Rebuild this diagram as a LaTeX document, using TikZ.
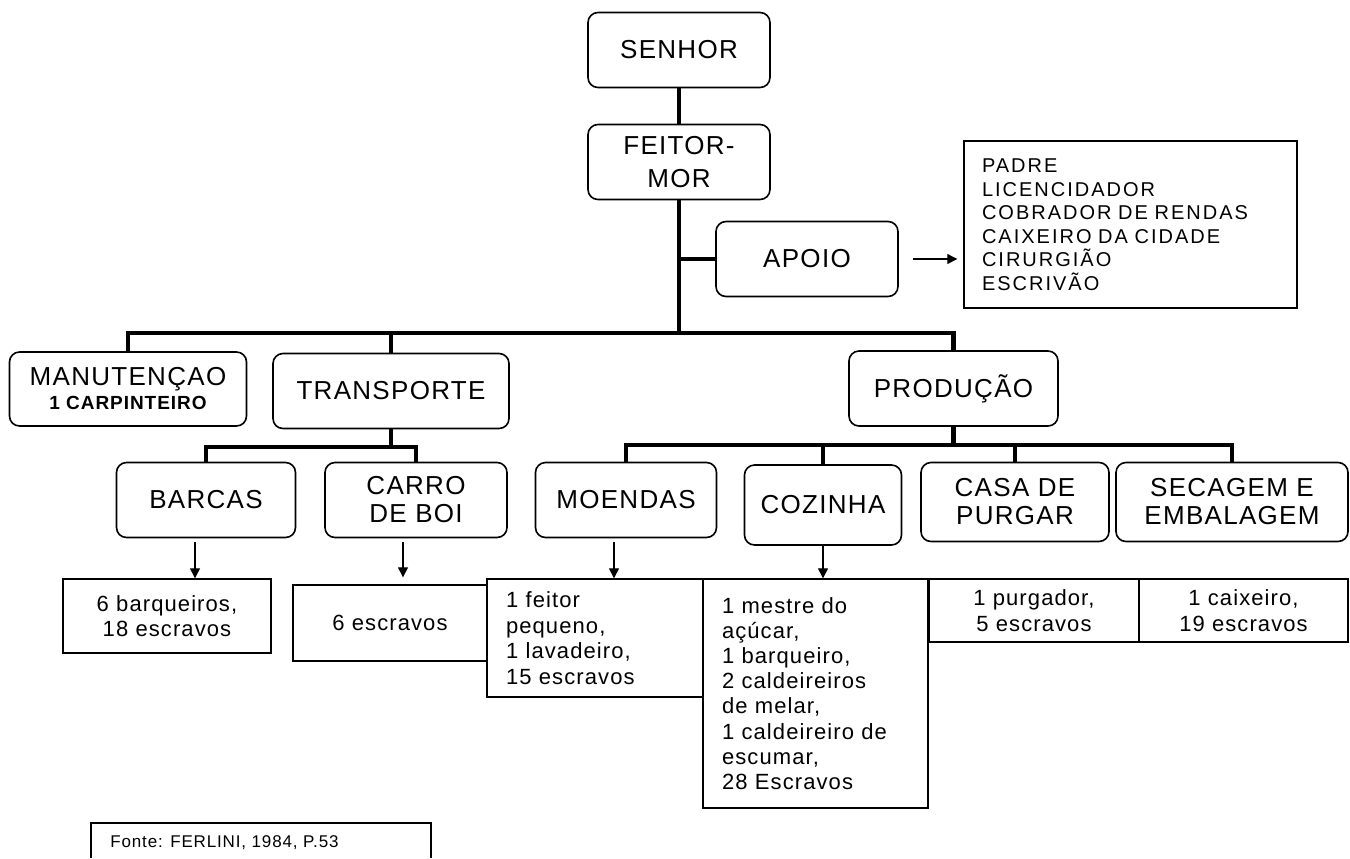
\documentclass[tikz,border=0pt]{standalone}
\usepackage{fontspec}
\setmainfont{Liberation Sans}[LetterSpace=5]
\usetikzlibrary{arrows.meta,positioning}
\tikzset{
  setor/.style={draw,line width=0.8pt,rounded corners=5pt,align=center,
    font=\fontsize{13}{15}\selectfont,inner sep=2pt},
  quadro/.style={draw,line width=0.7pt,inner sep=0pt,
    font=\fontsize{11}{12.8}\selectfont},
  elo/.style={line width=2.3pt},
  seta/.style={line width=0.6pt,-{Triangle[width=5pt,length=5pt]}}
}

\begin{document}
\begin{tikzpicture}[x=0.5pt,y=-0.5pt]
  \useasboundingbox (0,0) rectangle (1350,858);

  % topo
  \node[setor,minimum width=91pt,minimum height=37.5pt] (senhor) at (679,50) {SENHOR};
  \node[setor,minimum width=91pt,minimum height=37.5pt,
    font=\fontsize{13}{16.5}\selectfont] (feitor) at (679,162) {FEITOR-\\MOR};
  \node[setor,minimum width=91pt,minimum height=37.5pt] (apoio) at (807,259) {APOIO};
  \node[quadro,minimum width=166.5pt,minimum height=83.5pt,text width=148.5pt,
    align=left,font=\fontsize{10}{11.75}\addfontfeature{LetterSpace=10}\selectfont]
    (lista) at (1130.5,224.5)
    {PADRE\\LICENCIDADOR\\COBRADOR DE RENDAS\\CAIXEIRO DA CIDADE\\CIRURGIÃO\\ESCRIVÃO};

  % setores
  \node[setor,minimum width=118.5pt,minimum height=37pt,
    font=\fontsize{13}{12}\selectfont] (manut) at (128,389)
    {MANUTENÇAO\\{\fontsize{9.5}{12}\bfseries\selectfont 1 CARPINTEIRO}};
  \node[setor,minimum width=118pt,minimum height=37.5pt] (transp) at (391,391) {TRANSPORTE};
  \node[setor,minimum width=104.5pt,minimum height=37.5pt] (producao) at (953.5,388.5) {PRODUÇÃO};

  \node[setor,minimum width=89.5pt,minimum height=37.5pt] (barcas) at (206,500) {BARCAS};
  \node[setor,minimum width=91pt,minimum height=37.5pt,
    font=\fontsize{13}{14}\selectfont] (carro) at (416,500) {CARRO\\DE BOI};
  \node[setor,minimum width=90.5pt,minimum height=37.5pt] (moendas) at (626,500) {MOENDAS};
  \node[setor,minimum width=78.5pt,minimum height=40pt] (cozinha) at (823,505) {COZINHA};
  \node[setor,minimum width=94pt,minimum height=39.5pt,
    font=\fontsize{13}{14}\selectfont] (casa) at (1015,502) {CASA DE\\PURGAR};
  \node[setor,minimum width=116pt,minimum height=39.5pt,
    font=\fontsize{13}{14}\selectfont] (secagem) at (1232,502) {SECAGEM E\\EMBALAGEM};

  % quadros de pessoal
  \node[quadro,minimum width=104pt,minimum height=37pt,align=center] (barqueiros) at (167,616)
    {6 barqueiros,\\18 escravos};
  \node[quadro,minimum width=97pt,minimum height=38pt,align=center] (boi) at (390,623)
    {6 escravos};
  \node[quadro,minimum width=108pt,minimum height=59pt,text width=89pt,
    inner xsep=9.5pt,align=left] (moagem) at (595,638)
    {1 feitor\\pequeno,\\1 lavadeiro,\\15 escravos};
  \node[quadro,minimum width=112.5pt,minimum height=114.5pt,text width=93.5pt,
    inner xsep=9.5pt,align=left,font=\fontsize{11}{12.6}\selectfont] (cozedura) at (815.5,693.5)
    {1 mestre do\\açúcar,\\1 barqueiro,\\2 caldeireiros\\de melar,\\1 caldeireiro de\\escumar,\\28 Escravos};
  \node[quadro,minimum width=105pt,minimum height=31.5pt,align=center] (purga) at (1034,610.5)
    {1 purgador,\\5 escravos};
  \node[quadro,minimum width=104.5pt,minimum height=31.5pt,align=center] (caixa) at (1243.5,610.5)
    {1 caixeiro,\\19 escravos};

  % ligacoes
  \coordinate (barra) at (678,333);
  \coordinate (barrat) at (390,447);
  \coordinate (barrap) at (953,445);

  \draw[elo] (senhor) -- (feitor);
  \draw[elo] (feitor.south) -- (feitor.south |- barra);
  \draw[elo] (apoio.west) -- (apoio.west -| feitor.south);
  \draw[elo] (manut.north) |- (barra) -| (producao.north);
  \draw[elo] (transp.north) -- (transp.north |- barra);

  \draw[elo,line width=2pt] (transp.south) -- (transp.south |- barrat);
  \draw[elo,line width=2pt] (barcas.north) |- (barrat) -| (carro.north);

  \draw[elo] (producao.south) -- (producao.south |- barrap);
  \draw[elo,line width=2pt] (moendas.north) |- (barrap) -| (secagem.north);
  \draw[elo,line width=2pt] (cozinha.north) -- (cozinha.north |- barrap);
  \draw[elo,line width=2pt] (casa.north) -- (casa.north |- barrap);

  \draw[seta,shorten <=7pt,shorten >=3pt] (apoio.east) -- (apoio.east -| lista.west);
  \draw[seta,shorten <=2pt] ([xshift=-5.5pt]barcas.south) -- ([xshift=-5.5pt]barcas.south |- barqueiros.north);
  \draw[seta,shorten <=2pt,shorten >=3.5pt] ([xshift=-6.5pt]carro.south) -- ([xshift=-6.5pt]carro.south |- boi.north);
  \draw[seta,shorten <=2pt] ([xshift=-6pt]moendas.south) -- ([xshift=-6pt]moendas.south |- moagem.north);
  \draw[seta] (cozinha.south) -- (cozinha.south |- cozedura.north);

  % fonte
  \node[anchor=base west,inner sep=0pt,font=\fontsize{8.5}{10}\selectfont] (fonte) at (110,847)
    {Fonte: FERLINI, 1984, P.53};
  \draw[line width=0.7pt] (91,858) |- (431,823) -- (431,858);
\end{tikzpicture}
\end{document}
